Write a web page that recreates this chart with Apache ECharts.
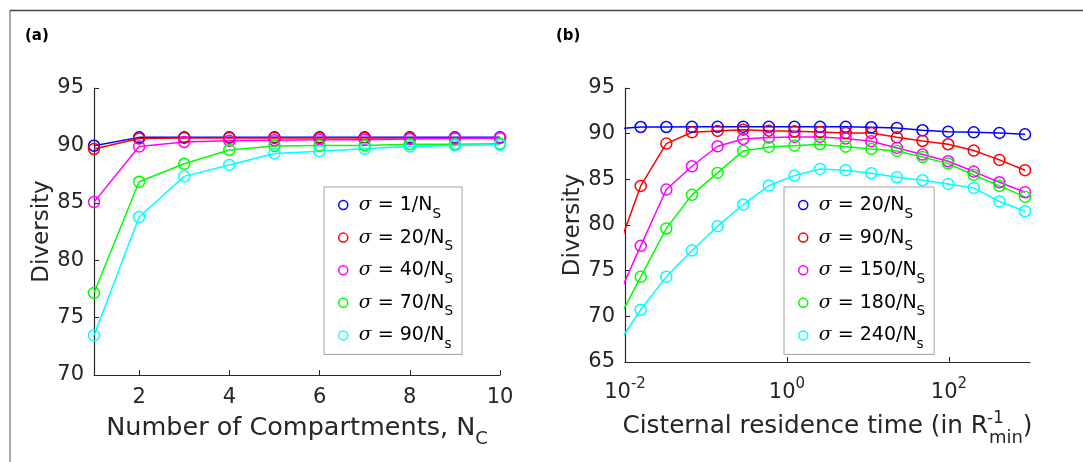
<!DOCTYPE html>
<html><head><meta charset="utf-8">
<script src="https://cdn.jsdelivr.net/npm/echarts@6/dist/echarts.min.js"></script>
<style>html,body{margin:0;padding:0;background:#fff}#c{width:1083px;height:462px}</style>
</head><body><div id="c"></div>
<script>
// ---- Panel (a) data ----
const compartments = [1,2,3,4,5,6,7,8,9,10];
const leftBlue    = [89.97,90.7,90.7,90.7,90.7,90.7,90.7,90.7,90.7,90.7];
const leftRed     = [89.69,90.6,90.65,90.65,90.65,90.65,90.65,90.65,90.65,90.65];
const leftMagenta = [85.06,89.9,90.3,90.4,90.45,90.5,90.5,90.55,90.6,90.65];
const leftGreen   = [77.15,86.83,88.4,89.6,89.95,90.0,90.0,90.1,90.1,90.15];
const leftCyan    = [73.45,83.76,87.3,88.3,89.3,89.5,89.7,89.9,90.0,90.05];
const leftSigmas  = ['1','20','40','70','90'];
const xTicksA = [2,4,6,8,10];

// ---- Panel (b) data ----
const residenceTimes = [0.007545,0.01563,0.03238,0.06708,0.139,0.2879,0.5965,1.2355,2.559,5.302,10.98,22.75,47.13,97.63,202.2,419.0,867.9];
const rightBlue    = [90.52,90.73,90.73,90.75,90.75,90.75,90.75,90.75,90.75,90.75,90.7,90.63,90.37,90.22,90.15,90.08,89.93];
const rightRed     = [76.5,84.28,88.91,90.15,90.3,90.44,90.33,90.26,90.19,90.08,90.08,89.6,89.2,88.84,88.15,87.13,86.0];
const rightMagenta = [71.4,77.72,83.88,86.43,88.62,89.42,89.57,89.64,89.64,89.46,89.17,88.44,87.71,86.98,85.85,84.68,83.59];
const rightGreen   = [69.0,74.33,79.62,83.3,85.7,88.11,88.55,88.69,88.84,88.58,88.33,88.11,87.45,86.72,85.48,84.28,83.08];
const rightCyan    = [66.5,70.72,74.33,77.21,79.87,82.24,84.32,85.41,86.14,86.0,85.67,85.23,84.9,84.5,84.06,82.57,81.51];
const rightSigmas  = ['20','90','150','180','240'];
const xTicksB = [0.01,1,100];
const xTickExpB = ['-2','0','2'];

const colors = ['#0000ff','#ff0000','#ff00ff','#00ff00','#00ffff'];
const leftSeries = [leftBlue,leftRed,leftMagenta,leftGreen,leftCyan];
const rightSeries = [rightBlue,rightRed,rightMagenta,rightGreen,rightCyan];

const FONT = 'DejaVu Sans';
const TXT = '#262626';
const labelMap = {};
function mkLabel(s, last){ return '{sig|σ} = ' + s + '/N{sub|' + (last ? 's' : 'S') + '}'; }
leftSigmas.forEach((s,i)=>{ labelMap['a'+s] = mkLabel(s, i===4); });
rightSigmas.forEach((s,i)=>{ labelMap['b'+s] = mkLabel(s, i===4); });

const legendRich = {
  sig: {fontFamily:'DejaVu Serif', fontStyle:'italic', fontSize:19, color:'#000', lineHeight:20},
  sub: {fontSize:13.5, fontFamily:FONT, color:'#000', verticalAlign:'top', lineHeight:20, padding:[12,0,0,0]}
};

function mkSeries(arrs, names, xs, gi){
  return arrs.map((arr,i)=>({
    type:'line', name:names[i], xAxisIndex:gi, yAxisIndex:gi,
    data: arr.map((v,j)=>[xs[j], v]),
    symbol:'circle', symbolSize:11, clip:true,
    lineStyle:{color:colors[i], width:1.5},
    itemStyle:{color:'transparent', borderColor:colors[i], borderWidth:1.5},
    emphasis:{disabled:true}, animation:false
  }));
}

function mkLegend(names, left){
  return {
    orient:'vertical', left:left, top:187, data:names, selectedMode:false,
    backgroundColor:'#fff', borderColor:'#a0a0a0', borderWidth:1,
    padding:[8,9,3,14], itemWidth:9, itemHeight:9, itemGap:6.6,
    icon:'circle',
    itemStyle:{color:'transparent', borderColor:'inherit', borderWidth:1.5},
    lineStyle:{opacity:0},
    formatter: n => labelMap[n],
    textStyle:{fontSize:19, fontFamily:FONT, color:'#000', lineHeight:20, padding:[0,0,0,6], rich:legendRich}
  };
}

const axisCommon = {
  axisLine:{lineStyle:{color:TXT, width:1.2}},
  splitLine:{show:false},
  nameLocation:'middle'
};

const titleRich = {
  sup:{fontSize:17, fontFamily:FONT, color:TXT, verticalAlign:'bottom', lineHeight:30, width:1, padding:[0,-7,15,7]},
  sub:{fontSize:18, fontFamily:FONT, color:TXT, verticalAlign:'top', lineHeight:30, padding:[17,0,0,0]}
};

const option = {
  animation:false,
  backgroundColor:'#fff',
  grid:[
    {left:94, top:88, width:406, height:287},
    {left:625, top:88, width:405, height:274}
  ],
  xAxis:[
    Object.assign({}, axisCommon, {
      gridIndex:0, type:'value', min:1, max:10,
      axisTick:{inside:true, length:5, customValues:xTicksA, lineStyle:{color:TXT}},
      axisLabel:{customValues:xTicksA, fontSize:21, fontFamily:FONT, color:TXT, margin:12},
      name:'Number of Compartments, N{sub|C}', nameGap:35.5,
      nameTextStyle:{fontSize:25.5, fontFamily:FONT, color:TXT, lineHeight:30, rich:titleRich}
    }),
    Object.assign({}, axisCommon, {
      gridIndex:1, type:'log', logBase:10, min:0.01, max:1000,
      axisTick:{inside:true, length:5, customValues:xTicksB, lineStyle:{color:TXT}},
      axisLabel:{customValues:xTicksB, fontSize:21, fontFamily:FONT, color:TXT, margin:19, lineHeight:24,
        formatter: (v) => {
          let k = 0, best = Infinity;
          xTicksB.forEach((t,i)=>{ const d = Math.abs(Math.log10(t) - Math.log10(v)); if (d < best) { best = d; k = i; } });
          return '10{sup|' + xTickExpB[k] + '}';
        },
        rich:{sup:{fontSize:15, fontFamily:FONT, color:TXT, verticalAlign:'bottom', lineHeight:24, padding:[0,0,13.5,0]}}},
      minorTick:{show:false},
      name:'Cisternal residence time (in R{sup|-1}{sub|min})', nameGap:48.5,
      nameTextStyle:{fontSize:24.7, fontFamily:FONT, color:TXT, lineHeight:30, rich:titleRich}
    })
  ],
  yAxis:[
    Object.assign({}, axisCommon, {
      gridIndex:0, type:'value', min:70, max:95, interval:5,
      axisTick:{inside:true, length:5, lineStyle:{color:TXT}},
      axisLabel:{fontSize:21, fontFamily:FONT, color:TXT, margin:10},
      name:'Diversity', nameGap:40, nameTextStyle:{fontSize:23, fontFamily:FONT, color:TXT}
    }),
    Object.assign({}, axisCommon, {
      gridIndex:1, type:'value', min:65, max:95, interval:5,
      axisTick:{inside:true, length:5, lineStyle:{color:TXT}},
      axisLabel:{fontSize:21, fontFamily:FONT, color:TXT, margin:10},
      name:'Diversity', nameGap:40, nameTextStyle:{fontSize:23, fontFamily:FONT, color:TXT}
    })
  ],
  legend:[
    mkLegend(leftSigmas.map(s=>'a'+s), 324),
    mkLegend(rightSigmas.map(s=>'b'+s), 784)
  ],
  graphic:[
    {type:'line', shape:{x1:10,y1:10.5,x2:1083,y2:10.5}, style:{stroke:'#444', lineWidth:1.5}, silent:true},
    {type:'line', shape:{x1:10,y1:10,x2:10,y2:462}, style:{stroke:'#555', lineWidth:1}, silent:true},
    {type:'text', left:25, top:29, style:{text:'(a)', font:'bold 15px "DejaVu Sans"', fill:'#000'}},
    {type:'text', left:556, top:29, style:{text:'(b)', font:'bold 15px "DejaVu Sans"', fill:'#000'}}
  ],
  series: mkSeries(leftSeries, leftSigmas.map(s=>'a'+s), compartments, 0)
    .concat(mkSeries(rightSeries, rightSigmas.map(s=>'b'+s), residenceTimes, 1))
};

const chart = echarts.init(document.getElementById('c'), null, {renderer:'canvas'});
chart.setOption(option);
</script>
</body></html>
